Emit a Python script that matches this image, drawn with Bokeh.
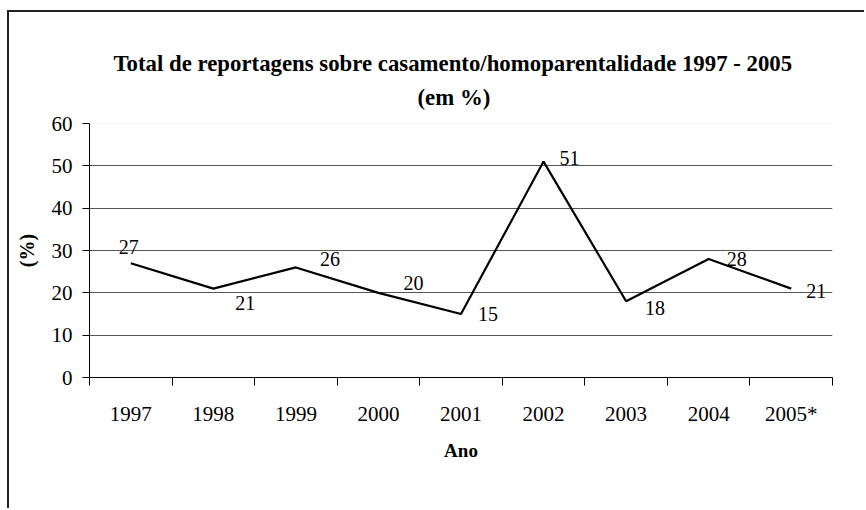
from bokeh.plotting import figure
from bokeh.models import ColumnDataSource, FixedTicker, Title, Span
from bokeh.embed import file_html
from bokeh.resources import INLINE
from bokeh.core.properties import value

years = ["1997", "1998", "1999", "2000", "2001", "2002", "2003", "2004", "2005*"]
percent = [27, 21, 26, 20, 15, 51, 18, 28, 21]
y_ticks = [0, 10, 20, 30, 40, 50, 60]
title_line1 = "Total de reportagens sobre casamento/homoparentalidade 1997 - 2005"
title_line2 = "(em %)"

# label placement tweaks (pixels)
label_dx = [-2, 32, 34, 35, 27, 26, 29, 28, 25]
label_dy = [-16, 14, -8, -10, 0, -4, 7, 0, 2]

FONT = "Liberation Serif"
n = len(years)
xs = [i + 0.5 for i in range(n)]

src = ColumnDataSource(dict(x=xs, y=percent, t=[str(v) for v in percent],
                            dx=label_dx, dy=label_dy))

p = figure(width=857, height=498, x_range=(0, n), y_range=(0, 60),
           output_backend="svg", toolbar_location=None, title=None,
           min_border_left=80, min_border_right=34, min_border_top=111,
           min_border_bottom=133)
p.styles = {"border-top": "2px solid #222", "border-left": "2px solid #222",
            "margin-top": "10px", "margin-left": "7px"}
p.outline_line_color = None
p.background_fill_color = "white"
p.border_fill_color = "white"

# small spacer between subtitle and plot area
p.add_layout(Title(text="\u00a0", text_font=FONT, text_font_size="4px",
                   standoff=0), "above")
p.add_layout(Title(text=title_line2, align="left", offset=328, text_font=FONT,
                   text_font_style="bold", text_font_size="22.8px",
                   text_color="black", standoff=14), "above")
p.add_layout(Title(text=title_line1, align="left", offset=24, text_font=FONT,
                   text_font_style="bold", text_font_size="22.8px",
                   text_color="black", standoff=0), "above")

p.xgrid.visible = False
p.ygrid.ticker = FixedTicker(ticks=y_ticks[1:-1])
p.ygrid.grid_line_color = "#555555"
p.ygrid.grid_line_width = 1
p.add_layout(Span(location=y_ticks[-1], dimension="width", line_color="#e8e8e8", line_width=1))

p.line("x", "y", source=src, line_color="black", line_width=2.2)
p.text("x", "y", text="t", source=src, x_offset="dx", y_offset="dy",
       text_align="center", text_baseline="middle", text_font=value(FONT),
       text_font_size="20px", text_color="black")

ya = p.yaxis[0]
ya.ticker = FixedTicker(ticks=y_ticks)
ya.major_tick_out = 7
ya.major_tick_in = 0
ya.minor_tick_line_color = None
ya.axis_line_color = "black"
ya.major_tick_line_color = "black"
ya.major_label_text_font = FONT
ya.major_label_text_font_size = "21px"
ya.major_label_text_color = "black"
ya.major_label_standoff = 10
ya.axis_label = "(%)"
ya.axis_label_text_font = FONT
ya.axis_label_text_font_style = "bold"
ya.axis_label_text_font_size = "20px"
ya.axis_label_text_color = "black"
ya.axis_label_standoff = 11

xa = p.xaxis[0]
xa.ticker = FixedTicker(ticks=xs, minor_ticks=list(range(n + 1)))
xa.major_label_overrides = {x: y for x, y in zip(xs, years)}
xa.major_tick_line_color = None
xa.major_tick_out = 0
xa.major_tick_in = 0
xa.minor_tick_line_color = "black"
xa.minor_tick_out = 8
xa.minor_tick_in = 0
xa.axis_line_color = "black"
xa.major_label_text_font = FONT
xa.major_label_text_font_size = "21px"
xa.major_label_text_color = "black"
xa.major_label_standoff = 16
xa.axis_label = "Ano"
xa.axis_label_text_font = FONT
xa.axis_label_text_font_style = "bold"
xa.axis_label_text_font_size = "19px"
xa.axis_label_text_color = "black"
xa.axis_label_standoff = 11

open("out.html", "w").write(file_html(p, INLINE))
